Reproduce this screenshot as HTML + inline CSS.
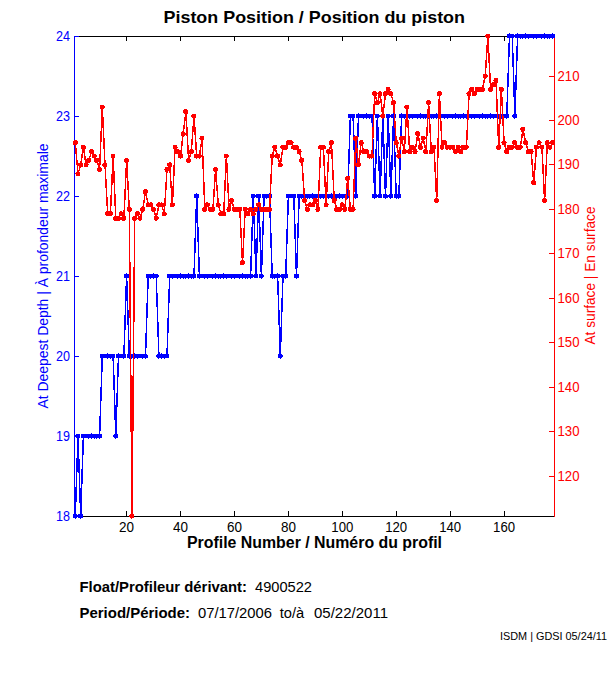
<!DOCTYPE html>
<html lang="en"><head><meta charset="utf-8"><title>Piston Position / Position du piston</title>
<style>
html,body{margin:0;padding:0;background:#fff;}
svg{display:block;}
text{font-family:"Liberation Sans",Arial,Helvetica,sans-serif;fill:#000;}
.t{font-size:14px;}
.n{font-size:15.4px;}
.b{font-weight:bold;}
</style></head><body>
<svg width="611" height="675" viewBox="0 0 611 675">
<rect x="0" y="0" width="611" height="675" fill="#ffffff"/>

<g shape-rendering="crispEdges">
<rect x="74" y="36" width="481" height="1" fill="#000"/>
<rect x="74" y="516" width="481" height="1" fill="#000"/>
<rect x="126" y="511" width="1" height="5" fill="#000"/>
<rect x="126" y="37" width="1" height="4" fill="#000"/>
<rect x="180" y="511" width="1" height="5" fill="#000"/>
<rect x="180" y="37" width="1" height="4" fill="#000"/>
<rect x="234" y="511" width="1" height="5" fill="#000"/>
<rect x="234" y="37" width="1" height="4" fill="#000"/>
<rect x="288" y="511" width="1" height="5" fill="#000"/>
<rect x="288" y="37" width="1" height="4" fill="#000"/>
<rect x="342" y="511" width="1" height="5" fill="#000"/>
<rect x="342" y="37" width="1" height="4" fill="#000"/>
<rect x="396" y="511" width="1" height="5" fill="#000"/>
<rect x="396" y="37" width="1" height="4" fill="#000"/>
<rect x="450" y="511" width="1" height="5" fill="#000"/>
<rect x="450" y="37" width="1" height="4" fill="#000"/>
<rect x="504" y="511" width="1" height="5" fill="#000"/>
<rect x="504" y="37" width="1" height="4" fill="#000"/>
</g>
<g shape-rendering="crispEdges">
<rect x="74" y="36" width="1" height="481" fill="#0000ff"/>
<rect x="74" y="516" width="5" height="1" fill="#0000ff"/>
<rect x="74" y="436" width="5" height="1" fill="#0000ff"/>
<rect x="74" y="356" width="5" height="1" fill="#0000ff"/>
<rect x="74" y="276" width="5" height="1" fill="#0000ff"/>
<rect x="74" y="196" width="5" height="1" fill="#0000ff"/>
<rect x="74" y="116" width="5" height="1" fill="#0000ff"/>
<rect x="74" y="36" width="5" height="1" fill="#0000ff"/>
<rect x="554" y="36" width="1" height="481" fill="#ff0000"/>
<rect x="549" y="476" width="5" height="1" fill="#ff0000"/>
<rect x="549" y="431" width="5" height="1" fill="#ff0000"/>
<rect x="549" y="387" width="5" height="1" fill="#ff0000"/>
<rect x="549" y="342" width="5" height="1" fill="#ff0000"/>
<rect x="549" y="298" width="5" height="1" fill="#ff0000"/>
<rect x="549" y="253" width="5" height="1" fill="#ff0000"/>
<rect x="549" y="209" width="5" height="1" fill="#ff0000"/>
<rect x="549" y="164" width="5" height="1" fill="#ff0000"/>
<rect x="549" y="120" width="5" height="1" fill="#ff0000"/>
<rect x="549" y="76" width="5" height="1" fill="#ff0000"/>
</g>
<g shape-rendering="crispEdges"><polyline points="75.3,516.0 78.0,436.0 80.7,516.0 83.4,436.0 86.1,436.0 88.8,436.0 91.5,436.0 94.2,436.0 96.9,436.0 99.6,436.0 102.3,356.0 105.0,356.0 107.7,356.0 110.4,356.0 113.1,356.0 115.8,436.0 118.5,356.0 121.2,356.0 123.9,356.0 126.6,276.0 129.3,356.0 132.0,356.0 134.7,356.0 137.4,356.0 140.1,356.0 142.8,356.0 145.5,356.0 148.2,276.0 150.9,276.0 153.6,276.0 156.2,276.0 158.9,356.0 161.6,356.0 164.3,356.0 167.0,356.0 169.7,276.0 172.4,276.0 175.1,276.0 177.8,276.0 180.5,276.0 183.2,276.0 185.9,276.0 188.6,276.0 191.3,276.0 194.0,276.0 196.7,196.0 199.4,276.0 202.1,276.0 204.8,276.0 207.5,276.0 210.2,276.0 212.9,276.0 215.6,276.0 218.3,276.0 221.0,276.0 223.7,276.0 226.4,276.0 229.1,276.0 231.8,276.0 234.4,276.0 237.1,276.0 239.8,276.0 242.5,276.0 245.2,276.0 247.9,276.0 250.6,276.0 253.3,196.0 256.0,276.0 258.7,196.0 261.4,276.0 264.1,196.0 266.8,196.0 269.5,196.0 272.2,276.0 274.9,276.0 277.6,276.0 280.3,356.0 283.0,276.0 285.7,276.0 288.4,196.0 291.1,196.0 293.8,196.0 296.5,276.0 299.2,196.0 301.9,196.0 304.6,196.0 307.3,196.0 310.0,196.0 312.7,196.0 315.3,196.0 318.0,196.0 320.7,196.0 323.4,196.0 326.1,196.0 328.8,196.0 331.5,196.0 334.2,196.0 336.9,196.0 339.6,196.0 342.3,196.0 345.0,196.0 347.7,196.0 350.4,116.0 353.1,116.0 355.8,196.0 358.5,116.0 361.2,116.0 363.9,116.0 366.6,116.0 369.3,116.0 372.0,116.0 374.7,196.0 377.4,116.0 380.1,196.0 382.8,116.0 385.5,196.0 388.2,116.0 390.9,196.0 393.6,116.0 396.2,196.0 398.9,196.0 401.6,116.0 404.3,116.0 407.0,116.0 409.7,116.0 412.4,116.0 415.1,116.0 417.8,116.0 420.5,116.0 423.2,116.0 425.9,116.0 428.6,116.0 431.3,116.0 434.0,116.0 436.7,116.0 439.4,116.0 442.1,116.0 444.8,116.0 447.5,116.0 450.2,116.0 452.9,116.0 455.6,116.0 458.3,116.0 461.0,116.0 463.7,116.0 466.4,116.0 469.1,116.0 471.8,116.0 474.4,116.0 477.1,116.0 479.8,116.0 482.5,116.0 485.2,116.0 487.9,116.0 490.6,116.0 493.3,116.0 496.0,116.0 498.7,116.0 501.4,116.0 504.1,116.0 506.8,116.0 509.5,36.0 512.2,36.0 514.9,116.0 517.6,36.0 520.3,36.0 523.0,36.0 525.7,36.0 528.4,36.0 531.1,36.0 533.8,36.0 536.5,36.0 539.2,36.0 541.9,36.0 544.6,36.0 547.3,36.0 550.0,36.0 552.7,36.0" fill="none" stroke="#0000ff" stroke-width="1.5" stroke-linejoin="round"/><circle cx="75.26" cy="516.03" r="2.543" fill="#0000ff"/><circle cx="77.95" cy="436.03" r="2.543" fill="#0000ff"/><circle cx="80.65" cy="516.03" r="2.543" fill="#0000ff"/><circle cx="83.35" cy="436.03" r="2.543" fill="#0000ff"/><circle cx="86.04" cy="436.03" r="2.543" fill="#0000ff"/><circle cx="88.74" cy="436.03" r="2.543" fill="#0000ff"/><circle cx="91.44" cy="436.03" r="2.543" fill="#0000ff"/><circle cx="94.13" cy="436.03" r="2.543" fill="#0000ff"/><circle cx="96.83" cy="436.03" r="2.543" fill="#0000ff"/><circle cx="99.53" cy="436.03" r="2.543" fill="#0000ff"/><circle cx="102.22" cy="356.03" r="2.543" fill="#0000ff"/><circle cx="104.92" cy="356.03" r="2.543" fill="#0000ff"/><circle cx="107.62" cy="356.03" r="2.543" fill="#0000ff"/><circle cx="110.31" cy="356.03" r="2.543" fill="#0000ff"/><circle cx="113.01" cy="356.03" r="2.543" fill="#0000ff"/><circle cx="115.71" cy="436.03" r="2.543" fill="#0000ff"/><circle cx="118.40" cy="356.03" r="2.543" fill="#0000ff"/><circle cx="121.10" cy="356.03" r="2.543" fill="#0000ff"/><circle cx="123.80" cy="356.03" r="2.543" fill="#0000ff"/><circle cx="126.49" cy="276.03" r="2.543" fill="#0000ff"/><circle cx="129.19" cy="356.03" r="2.543" fill="#0000ff"/><circle cx="131.89" cy="356.03" r="2.543" fill="#0000ff"/><circle cx="134.58" cy="356.03" r="2.543" fill="#0000ff"/><circle cx="137.28" cy="356.03" r="2.543" fill="#0000ff"/><circle cx="139.98" cy="356.03" r="2.543" fill="#0000ff"/><circle cx="142.67" cy="356.03" r="2.543" fill="#0000ff"/><circle cx="145.37" cy="356.03" r="2.543" fill="#0000ff"/><circle cx="148.07" cy="276.03" r="2.543" fill="#0000ff"/><circle cx="150.76" cy="276.03" r="2.543" fill="#0000ff"/><circle cx="153.46" cy="276.03" r="2.543" fill="#0000ff"/><circle cx="156.16" cy="276.03" r="2.543" fill="#0000ff"/><circle cx="158.85" cy="356.03" r="2.543" fill="#0000ff"/><circle cx="161.55" cy="356.03" r="2.543" fill="#0000ff"/><circle cx="164.25" cy="356.03" r="2.543" fill="#0000ff"/><circle cx="166.94" cy="356.03" r="2.543" fill="#0000ff"/><circle cx="169.64" cy="276.03" r="2.543" fill="#0000ff"/><circle cx="172.34" cy="276.03" r="2.543" fill="#0000ff"/><circle cx="175.03" cy="276.03" r="2.543" fill="#0000ff"/><circle cx="177.73" cy="276.03" r="2.543" fill="#0000ff"/><circle cx="180.43" cy="276.03" r="2.543" fill="#0000ff"/><circle cx="183.12" cy="276.03" r="2.543" fill="#0000ff"/><circle cx="185.82" cy="276.03" r="2.543" fill="#0000ff"/><circle cx="188.52" cy="276.03" r="2.543" fill="#0000ff"/><circle cx="191.21" cy="276.03" r="2.543" fill="#0000ff"/><circle cx="193.91" cy="276.03" r="2.543" fill="#0000ff"/><circle cx="196.61" cy="196.03" r="2.543" fill="#0000ff"/><circle cx="199.30" cy="276.03" r="2.543" fill="#0000ff"/><circle cx="202.00" cy="276.03" r="2.543" fill="#0000ff"/><circle cx="204.70" cy="276.03" r="2.543" fill="#0000ff"/><circle cx="207.39" cy="276.03" r="2.543" fill="#0000ff"/><circle cx="210.09" cy="276.03" r="2.543" fill="#0000ff"/><circle cx="212.79" cy="276.03" r="2.543" fill="#0000ff"/><circle cx="215.48" cy="276.03" r="2.543" fill="#0000ff"/><circle cx="218.18" cy="276.03" r="2.543" fill="#0000ff"/><circle cx="220.88" cy="276.03" r="2.543" fill="#0000ff"/><circle cx="223.57" cy="276.03" r="2.543" fill="#0000ff"/><circle cx="226.27" cy="276.03" r="2.543" fill="#0000ff"/><circle cx="228.97" cy="276.03" r="2.543" fill="#0000ff"/><circle cx="231.66" cy="276.03" r="2.543" fill="#0000ff"/><circle cx="234.36" cy="276.03" r="2.543" fill="#0000ff"/><circle cx="237.06" cy="276.03" r="2.543" fill="#0000ff"/><circle cx="239.75" cy="276.03" r="2.543" fill="#0000ff"/><circle cx="242.45" cy="276.03" r="2.543" fill="#0000ff"/><circle cx="245.15" cy="276.03" r="2.543" fill="#0000ff"/><circle cx="247.84" cy="276.03" r="2.543" fill="#0000ff"/><circle cx="250.54" cy="276.03" r="2.543" fill="#0000ff"/><circle cx="253.24" cy="196.03" r="2.543" fill="#0000ff"/><circle cx="255.93" cy="276.03" r="2.543" fill="#0000ff"/><circle cx="258.63" cy="196.03" r="2.543" fill="#0000ff"/><circle cx="261.33" cy="276.03" r="2.543" fill="#0000ff"/><circle cx="264.02" cy="196.03" r="2.543" fill="#0000ff"/><circle cx="266.72" cy="196.03" r="2.543" fill="#0000ff"/><circle cx="269.42" cy="196.03" r="2.543" fill="#0000ff"/><circle cx="272.11" cy="276.03" r="2.543" fill="#0000ff"/><circle cx="274.81" cy="276.03" r="2.543" fill="#0000ff"/><circle cx="277.51" cy="276.03" r="2.543" fill="#0000ff"/><circle cx="280.20" cy="356.03" r="2.543" fill="#0000ff"/><circle cx="282.90" cy="276.03" r="2.543" fill="#0000ff"/><circle cx="285.60" cy="276.03" r="2.543" fill="#0000ff"/><circle cx="288.29" cy="196.03" r="2.543" fill="#0000ff"/><circle cx="290.99" cy="196.03" r="2.543" fill="#0000ff"/><circle cx="293.69" cy="196.03" r="2.543" fill="#0000ff"/><circle cx="296.38" cy="276.03" r="2.543" fill="#0000ff"/><circle cx="299.08" cy="196.03" r="2.543" fill="#0000ff"/><circle cx="301.78" cy="196.03" r="2.543" fill="#0000ff"/><circle cx="304.47" cy="196.03" r="2.543" fill="#0000ff"/><circle cx="307.17" cy="196.03" r="2.543" fill="#0000ff"/><circle cx="309.87" cy="196.03" r="2.543" fill="#0000ff"/><circle cx="312.56" cy="196.03" r="2.543" fill="#0000ff"/><circle cx="315.26" cy="196.03" r="2.543" fill="#0000ff"/><circle cx="317.95" cy="196.03" r="2.543" fill="#0000ff"/><circle cx="320.65" cy="196.03" r="2.543" fill="#0000ff"/><circle cx="323.35" cy="196.03" r="2.543" fill="#0000ff"/><circle cx="326.04" cy="196.03" r="2.543" fill="#0000ff"/><circle cx="328.74" cy="196.03" r="2.543" fill="#0000ff"/><circle cx="331.44" cy="196.03" r="2.543" fill="#0000ff"/><circle cx="334.13" cy="196.03" r="2.543" fill="#0000ff"/><circle cx="336.83" cy="196.03" r="2.543" fill="#0000ff"/><circle cx="339.53" cy="196.03" r="2.543" fill="#0000ff"/><circle cx="342.22" cy="196.03" r="2.543" fill="#0000ff"/><circle cx="344.92" cy="196.03" r="2.543" fill="#0000ff"/><circle cx="347.62" cy="196.03" r="2.543" fill="#0000ff"/><circle cx="350.31" cy="116.03" r="2.543" fill="#0000ff"/><circle cx="353.01" cy="116.03" r="2.543" fill="#0000ff"/><circle cx="355.71" cy="196.03" r="2.543" fill="#0000ff"/><circle cx="358.40" cy="116.03" r="2.543" fill="#0000ff"/><circle cx="361.10" cy="116.03" r="2.543" fill="#0000ff"/><circle cx="363.80" cy="116.03" r="2.543" fill="#0000ff"/><circle cx="366.49" cy="116.03" r="2.543" fill="#0000ff"/><circle cx="369.19" cy="116.03" r="2.543" fill="#0000ff"/><circle cx="371.89" cy="116.03" r="2.543" fill="#0000ff"/><circle cx="374.58" cy="196.03" r="2.543" fill="#0000ff"/><circle cx="377.28" cy="116.03" r="2.543" fill="#0000ff"/><circle cx="379.98" cy="196.03" r="2.543" fill="#0000ff"/><circle cx="382.67" cy="116.03" r="2.543" fill="#0000ff"/><circle cx="385.37" cy="196.03" r="2.543" fill="#0000ff"/><circle cx="388.07" cy="116.03" r="2.543" fill="#0000ff"/><circle cx="390.76" cy="196.03" r="2.543" fill="#0000ff"/><circle cx="393.46" cy="116.03" r="2.543" fill="#0000ff"/><circle cx="396.16" cy="196.03" r="2.543" fill="#0000ff"/><circle cx="398.85" cy="196.03" r="2.543" fill="#0000ff"/><circle cx="401.55" cy="116.03" r="2.543" fill="#0000ff"/><circle cx="404.25" cy="116.03" r="2.543" fill="#0000ff"/><circle cx="406.94" cy="116.03" r="2.543" fill="#0000ff"/><circle cx="409.64" cy="116.03" r="2.543" fill="#0000ff"/><circle cx="412.34" cy="116.03" r="2.543" fill="#0000ff"/><circle cx="415.03" cy="116.03" r="2.543" fill="#0000ff"/><circle cx="417.73" cy="116.03" r="2.543" fill="#0000ff"/><circle cx="420.43" cy="116.03" r="2.543" fill="#0000ff"/><circle cx="423.12" cy="116.03" r="2.543" fill="#0000ff"/><circle cx="425.82" cy="116.03" r="2.543" fill="#0000ff"/><circle cx="428.52" cy="116.03" r="2.543" fill="#0000ff"/><circle cx="431.21" cy="116.03" r="2.543" fill="#0000ff"/><circle cx="433.91" cy="116.03" r="2.543" fill="#0000ff"/><circle cx="436.61" cy="116.03" r="2.543" fill="#0000ff"/><circle cx="439.30" cy="116.03" r="2.543" fill="#0000ff"/><circle cx="442.00" cy="116.03" r="2.543" fill="#0000ff"/><circle cx="444.70" cy="116.03" r="2.543" fill="#0000ff"/><circle cx="447.39" cy="116.03" r="2.543" fill="#0000ff"/><circle cx="450.09" cy="116.03" r="2.543" fill="#0000ff"/><circle cx="452.79" cy="116.03" r="2.543" fill="#0000ff"/><circle cx="455.48" cy="116.03" r="2.543" fill="#0000ff"/><circle cx="458.18" cy="116.03" r="2.543" fill="#0000ff"/><circle cx="460.88" cy="116.03" r="2.543" fill="#0000ff"/><circle cx="463.57" cy="116.03" r="2.543" fill="#0000ff"/><circle cx="466.27" cy="116.03" r="2.543" fill="#0000ff"/><circle cx="468.97" cy="116.03" r="2.543" fill="#0000ff"/><circle cx="471.66" cy="116.03" r="2.543" fill="#0000ff"/><circle cx="474.36" cy="116.03" r="2.543" fill="#0000ff"/><circle cx="477.06" cy="116.03" r="2.543" fill="#0000ff"/><circle cx="479.75" cy="116.03" r="2.543" fill="#0000ff"/><circle cx="482.45" cy="116.03" r="2.543" fill="#0000ff"/><circle cx="485.15" cy="116.03" r="2.543" fill="#0000ff"/><circle cx="487.84" cy="116.03" r="2.543" fill="#0000ff"/><circle cx="490.54" cy="116.03" r="2.543" fill="#0000ff"/><circle cx="493.24" cy="116.03" r="2.543" fill="#0000ff"/><circle cx="495.93" cy="116.03" r="2.543" fill="#0000ff"/><circle cx="498.63" cy="116.03" r="2.543" fill="#0000ff"/><circle cx="501.33" cy="116.03" r="2.543" fill="#0000ff"/><circle cx="504.02" cy="116.03" r="2.543" fill="#0000ff"/><circle cx="506.72" cy="116.03" r="2.543" fill="#0000ff"/><circle cx="509.42" cy="36.03" r="2.543" fill="#0000ff"/><circle cx="512.11" cy="36.03" r="2.543" fill="#0000ff"/><circle cx="514.81" cy="116.03" r="2.543" fill="#0000ff"/><circle cx="517.51" cy="36.03" r="2.543" fill="#0000ff"/><circle cx="520.20" cy="36.03" r="2.543" fill="#0000ff"/><circle cx="522.90" cy="36.03" r="2.543" fill="#0000ff"/><circle cx="525.60" cy="36.03" r="2.543" fill="#0000ff"/><circle cx="528.29" cy="36.03" r="2.543" fill="#0000ff"/><circle cx="530.99" cy="36.03" r="2.543" fill="#0000ff"/><circle cx="533.69" cy="36.03" r="2.543" fill="#0000ff"/><circle cx="536.38" cy="36.03" r="2.543" fill="#0000ff"/><circle cx="539.08" cy="36.03" r="2.543" fill="#0000ff"/><circle cx="541.78" cy="36.03" r="2.543" fill="#0000ff"/><circle cx="544.47" cy="36.03" r="2.543" fill="#0000ff"/><circle cx="547.17" cy="36.03" r="2.543" fill="#0000ff"/><circle cx="549.87" cy="36.03" r="2.543" fill="#0000ff"/><circle cx="552.56" cy="36.03" r="2.543" fill="#0000ff"/></g>
<g shape-rendering="crispEdges"><polyline points="75.3,142.7 78.0,173.8 80.7,164.9 83.4,147.1 86.1,164.9 88.8,160.4 91.5,151.6 94.2,156.0 96.9,160.4 99.6,169.3 102.3,107.1 105.0,164.9 107.7,213.8 110.4,213.8 113.1,156.0 115.8,218.2 118.5,218.2 121.2,213.8 123.9,218.2 126.6,160.4 129.3,209.3 132.0,516.0 134.7,218.2 137.4,213.8 140.1,218.2 142.8,209.3 145.5,191.6 148.2,204.9 150.9,204.9 153.6,209.3 156.2,218.2 158.9,204.9 161.6,204.9 164.3,213.8 167.0,169.3 169.7,164.9 172.4,204.9 175.1,147.1 177.8,151.6 180.5,156.0 183.2,133.8 185.9,111.6 188.6,160.4 191.3,151.6 194.0,116.0 196.7,156.0 199.4,156.0 202.1,138.2 204.8,209.3 207.5,204.9 210.2,209.3 212.9,209.3 215.6,169.3 218.3,204.9 221.0,213.8 223.7,213.8 226.4,156.0 229.1,209.3 231.8,200.4 234.4,209.3 237.1,209.3 239.8,209.3 242.5,262.7 245.2,209.3 247.9,213.8 250.6,209.3 253.3,213.8 256.0,209.3 258.7,204.9 261.4,209.3 264.1,209.3 266.8,209.3 269.5,209.3 272.2,156.0 274.9,147.1 277.6,156.0 280.3,164.9 283.0,147.1 285.7,147.1 288.4,142.7 291.1,142.7 293.8,147.1 296.5,147.1 299.2,151.6 301.9,160.4 304.6,200.4 307.3,209.3 310.0,204.9 312.7,204.9 315.3,200.4 318.0,209.3 320.7,147.1 323.4,147.1 326.1,204.9 328.8,151.6 331.5,142.7 334.2,200.4 336.9,209.3 339.6,209.3 342.3,204.9 345.0,209.3 347.7,178.2 350.4,209.3 353.1,209.3 355.8,138.2 358.5,164.9 361.2,142.7 363.9,151.6 366.6,151.6 369.3,156.0 372.0,156.0 374.7,93.8 377.4,102.7 380.1,93.8 382.8,116.0 385.5,93.8 388.2,89.3 390.9,93.8 393.6,102.7 396.2,142.7 398.9,156.0 401.6,138.2 404.3,151.6 407.0,107.1 409.7,151.6 412.4,147.1 415.1,151.6 417.8,133.8 420.5,147.1 423.2,138.2 425.9,151.6 428.6,102.7 431.3,151.6 434.0,147.1 436.7,200.4 439.4,93.8 442.1,147.1 444.8,142.7 447.5,147.1 450.2,147.1 452.9,147.1 455.6,151.6 458.3,147.1 461.0,151.6 463.7,147.1 466.4,147.1 469.1,93.8 471.8,89.3 474.4,93.8 477.1,89.3 479.8,89.3 482.5,89.3 485.2,76.0 487.9,36.0 490.6,89.3 493.3,84.9 496.0,80.4 498.7,147.1 501.4,89.3 504.1,142.7 506.8,151.6 509.5,147.1 512.2,147.1 514.9,142.7 517.6,147.1 520.3,147.1 523.0,129.3 525.7,142.7 528.4,151.6 531.1,151.6 533.8,182.7 536.5,147.1 539.2,142.7 541.9,147.1 544.6,200.4 547.3,142.7 550.0,147.1 552.7,142.7" fill="none" stroke="#ff0000" stroke-width="1.5" stroke-linejoin="round"/><circle cx="75.26" cy="142.70" r="2.543" fill="#ff0000"/><circle cx="77.95" cy="173.81" r="2.543" fill="#ff0000"/><circle cx="80.65" cy="164.92" r="2.543" fill="#ff0000"/><circle cx="83.35" cy="147.14" r="2.543" fill="#ff0000"/><circle cx="86.04" cy="164.92" r="2.543" fill="#ff0000"/><circle cx="88.74" cy="160.47" r="2.543" fill="#ff0000"/><circle cx="91.44" cy="151.59" r="2.543" fill="#ff0000"/><circle cx="94.13" cy="156.03" r="2.543" fill="#ff0000"/><circle cx="96.83" cy="160.47" r="2.543" fill="#ff0000"/><circle cx="99.53" cy="169.36" r="2.543" fill="#ff0000"/><circle cx="102.22" cy="107.14" r="2.543" fill="#ff0000"/><circle cx="104.92" cy="164.92" r="2.543" fill="#ff0000"/><circle cx="107.62" cy="213.81" r="2.543" fill="#ff0000"/><circle cx="110.31" cy="213.81" r="2.543" fill="#ff0000"/><circle cx="113.01" cy="156.03" r="2.543" fill="#ff0000"/><circle cx="115.71" cy="218.25" r="2.543" fill="#ff0000"/><circle cx="118.40" cy="218.25" r="2.543" fill="#ff0000"/><circle cx="121.10" cy="213.81" r="2.543" fill="#ff0000"/><circle cx="123.80" cy="218.25" r="2.543" fill="#ff0000"/><circle cx="126.49" cy="160.47" r="2.543" fill="#ff0000"/><circle cx="129.19" cy="209.36" r="2.543" fill="#ff0000"/><circle cx="131.89" cy="516.03" r="2.543" fill="#ff0000"/><circle cx="134.58" cy="218.25" r="2.543" fill="#ff0000"/><circle cx="137.28" cy="213.81" r="2.543" fill="#ff0000"/><circle cx="139.98" cy="218.25" r="2.543" fill="#ff0000"/><circle cx="142.67" cy="209.36" r="2.543" fill="#ff0000"/><circle cx="145.37" cy="191.59" r="2.543" fill="#ff0000"/><circle cx="148.07" cy="204.92" r="2.543" fill="#ff0000"/><circle cx="150.76" cy="204.92" r="2.543" fill="#ff0000"/><circle cx="153.46" cy="209.36" r="2.543" fill="#ff0000"/><circle cx="156.16" cy="218.25" r="2.543" fill="#ff0000"/><circle cx="158.85" cy="204.92" r="2.543" fill="#ff0000"/><circle cx="161.55" cy="204.92" r="2.543" fill="#ff0000"/><circle cx="164.25" cy="213.81" r="2.543" fill="#ff0000"/><circle cx="166.94" cy="169.36" r="2.543" fill="#ff0000"/><circle cx="169.64" cy="164.92" r="2.543" fill="#ff0000"/><circle cx="172.34" cy="204.92" r="2.543" fill="#ff0000"/><circle cx="175.03" cy="147.14" r="2.543" fill="#ff0000"/><circle cx="177.73" cy="151.59" r="2.543" fill="#ff0000"/><circle cx="180.43" cy="156.03" r="2.543" fill="#ff0000"/><circle cx="183.12" cy="133.81" r="2.543" fill="#ff0000"/><circle cx="185.82" cy="111.59" r="2.543" fill="#ff0000"/><circle cx="188.52" cy="160.47" r="2.543" fill="#ff0000"/><circle cx="191.21" cy="151.59" r="2.543" fill="#ff0000"/><circle cx="193.91" cy="116.03" r="2.543" fill="#ff0000"/><circle cx="196.61" cy="156.03" r="2.543" fill="#ff0000"/><circle cx="199.30" cy="156.03" r="2.543" fill="#ff0000"/><circle cx="202.00" cy="138.25" r="2.543" fill="#ff0000"/><circle cx="204.70" cy="209.36" r="2.543" fill="#ff0000"/><circle cx="207.39" cy="204.92" r="2.543" fill="#ff0000"/><circle cx="210.09" cy="209.36" r="2.543" fill="#ff0000"/><circle cx="212.79" cy="209.36" r="2.543" fill="#ff0000"/><circle cx="215.48" cy="169.36" r="2.543" fill="#ff0000"/><circle cx="218.18" cy="204.92" r="2.543" fill="#ff0000"/><circle cx="220.88" cy="213.81" r="2.543" fill="#ff0000"/><circle cx="223.57" cy="213.81" r="2.543" fill="#ff0000"/><circle cx="226.27" cy="156.03" r="2.543" fill="#ff0000"/><circle cx="228.97" cy="209.36" r="2.543" fill="#ff0000"/><circle cx="231.66" cy="200.47" r="2.543" fill="#ff0000"/><circle cx="234.36" cy="209.36" r="2.543" fill="#ff0000"/><circle cx="237.06" cy="209.36" r="2.543" fill="#ff0000"/><circle cx="239.75" cy="209.36" r="2.543" fill="#ff0000"/><circle cx="242.45" cy="262.70" r="2.543" fill="#ff0000"/><circle cx="245.15" cy="209.36" r="2.543" fill="#ff0000"/><circle cx="247.84" cy="213.81" r="2.543" fill="#ff0000"/><circle cx="250.54" cy="209.36" r="2.543" fill="#ff0000"/><circle cx="253.24" cy="213.81" r="2.543" fill="#ff0000"/><circle cx="255.93" cy="209.36" r="2.543" fill="#ff0000"/><circle cx="258.63" cy="204.92" r="2.543" fill="#ff0000"/><circle cx="261.33" cy="209.36" r="2.543" fill="#ff0000"/><circle cx="264.02" cy="209.36" r="2.543" fill="#ff0000"/><circle cx="266.72" cy="209.36" r="2.543" fill="#ff0000"/><circle cx="269.42" cy="209.36" r="2.543" fill="#ff0000"/><circle cx="272.11" cy="156.03" r="2.543" fill="#ff0000"/><circle cx="274.81" cy="147.14" r="2.543" fill="#ff0000"/><circle cx="277.51" cy="156.03" r="2.543" fill="#ff0000"/><circle cx="280.20" cy="164.92" r="2.543" fill="#ff0000"/><circle cx="282.90" cy="147.14" r="2.543" fill="#ff0000"/><circle cx="285.60" cy="147.14" r="2.543" fill="#ff0000"/><circle cx="288.29" cy="142.70" r="2.543" fill="#ff0000"/><circle cx="290.99" cy="142.70" r="2.543" fill="#ff0000"/><circle cx="293.69" cy="147.14" r="2.543" fill="#ff0000"/><circle cx="296.38" cy="147.14" r="2.543" fill="#ff0000"/><circle cx="299.08" cy="151.59" r="2.543" fill="#ff0000"/><circle cx="301.78" cy="160.47" r="2.543" fill="#ff0000"/><circle cx="304.47" cy="200.47" r="2.543" fill="#ff0000"/><circle cx="307.17" cy="209.36" r="2.543" fill="#ff0000"/><circle cx="309.87" cy="204.92" r="2.543" fill="#ff0000"/><circle cx="312.56" cy="204.92" r="2.543" fill="#ff0000"/><circle cx="315.26" cy="200.47" r="2.543" fill="#ff0000"/><circle cx="317.95" cy="209.36" r="2.543" fill="#ff0000"/><circle cx="320.65" cy="147.14" r="2.543" fill="#ff0000"/><circle cx="323.35" cy="147.14" r="2.543" fill="#ff0000"/><circle cx="326.04" cy="204.92" r="2.543" fill="#ff0000"/><circle cx="328.74" cy="151.59" r="2.543" fill="#ff0000"/><circle cx="331.44" cy="142.70" r="2.543" fill="#ff0000"/><circle cx="334.13" cy="200.47" r="2.543" fill="#ff0000"/><circle cx="336.83" cy="209.36" r="2.543" fill="#ff0000"/><circle cx="339.53" cy="209.36" r="2.543" fill="#ff0000"/><circle cx="342.22" cy="204.92" r="2.543" fill="#ff0000"/><circle cx="344.92" cy="209.36" r="2.543" fill="#ff0000"/><circle cx="347.62" cy="178.25" r="2.543" fill="#ff0000"/><circle cx="350.31" cy="209.36" r="2.543" fill="#ff0000"/><circle cx="353.01" cy="209.36" r="2.543" fill="#ff0000"/><circle cx="355.71" cy="138.25" r="2.543" fill="#ff0000"/><circle cx="358.40" cy="164.92" r="2.543" fill="#ff0000"/><circle cx="361.10" cy="142.70" r="2.543" fill="#ff0000"/><circle cx="363.80" cy="151.59" r="2.543" fill="#ff0000"/><circle cx="366.49" cy="151.59" r="2.543" fill="#ff0000"/><circle cx="369.19" cy="156.03" r="2.543" fill="#ff0000"/><circle cx="371.89" cy="156.03" r="2.543" fill="#ff0000"/><circle cx="374.58" cy="93.81" r="2.543" fill="#ff0000"/><circle cx="377.28" cy="102.70" r="2.543" fill="#ff0000"/><circle cx="379.98" cy="93.81" r="2.543" fill="#ff0000"/><circle cx="382.67" cy="116.03" r="2.543" fill="#ff0000"/><circle cx="385.37" cy="93.81" r="2.543" fill="#ff0000"/><circle cx="388.07" cy="89.36" r="2.543" fill="#ff0000"/><circle cx="390.76" cy="93.81" r="2.543" fill="#ff0000"/><circle cx="393.46" cy="102.70" r="2.543" fill="#ff0000"/><circle cx="396.16" cy="142.70" r="2.543" fill="#ff0000"/><circle cx="398.85" cy="156.03" r="2.543" fill="#ff0000"/><circle cx="401.55" cy="138.25" r="2.543" fill="#ff0000"/><circle cx="404.25" cy="151.59" r="2.543" fill="#ff0000"/><circle cx="406.94" cy="107.14" r="2.543" fill="#ff0000"/><circle cx="409.64" cy="151.59" r="2.543" fill="#ff0000"/><circle cx="412.34" cy="147.14" r="2.543" fill="#ff0000"/><circle cx="415.03" cy="151.59" r="2.543" fill="#ff0000"/><circle cx="417.73" cy="133.81" r="2.543" fill="#ff0000"/><circle cx="420.43" cy="147.14" r="2.543" fill="#ff0000"/><circle cx="423.12" cy="138.25" r="2.543" fill="#ff0000"/><circle cx="425.82" cy="151.59" r="2.543" fill="#ff0000"/><circle cx="428.52" cy="102.70" r="2.543" fill="#ff0000"/><circle cx="431.21" cy="151.59" r="2.543" fill="#ff0000"/><circle cx="433.91" cy="147.14" r="2.543" fill="#ff0000"/><circle cx="436.61" cy="200.47" r="2.543" fill="#ff0000"/><circle cx="439.30" cy="93.81" r="2.543" fill="#ff0000"/><circle cx="442.00" cy="147.14" r="2.543" fill="#ff0000"/><circle cx="444.70" cy="142.70" r="2.543" fill="#ff0000"/><circle cx="447.39" cy="147.14" r="2.543" fill="#ff0000"/><circle cx="450.09" cy="147.14" r="2.543" fill="#ff0000"/><circle cx="452.79" cy="147.14" r="2.543" fill="#ff0000"/><circle cx="455.48" cy="151.59" r="2.543" fill="#ff0000"/><circle cx="458.18" cy="147.14" r="2.543" fill="#ff0000"/><circle cx="460.88" cy="151.59" r="2.543" fill="#ff0000"/><circle cx="463.57" cy="147.14" r="2.543" fill="#ff0000"/><circle cx="466.27" cy="147.14" r="2.543" fill="#ff0000"/><circle cx="468.97" cy="93.81" r="2.543" fill="#ff0000"/><circle cx="471.66" cy="89.36" r="2.543" fill="#ff0000"/><circle cx="474.36" cy="93.81" r="2.543" fill="#ff0000"/><circle cx="477.06" cy="89.36" r="2.543" fill="#ff0000"/><circle cx="479.75" cy="89.36" r="2.543" fill="#ff0000"/><circle cx="482.45" cy="89.36" r="2.543" fill="#ff0000"/><circle cx="485.15" cy="76.03" r="2.543" fill="#ff0000"/><circle cx="487.84" cy="36.03" r="2.543" fill="#ff0000"/><circle cx="490.54" cy="89.36" r="2.543" fill="#ff0000"/><circle cx="493.24" cy="84.92" r="2.543" fill="#ff0000"/><circle cx="495.93" cy="80.47" r="2.543" fill="#ff0000"/><circle cx="498.63" cy="147.14" r="2.543" fill="#ff0000"/><circle cx="501.33" cy="89.36" r="2.543" fill="#ff0000"/><circle cx="504.02" cy="142.70" r="2.543" fill="#ff0000"/><circle cx="506.72" cy="151.59" r="2.543" fill="#ff0000"/><circle cx="509.42" cy="147.14" r="2.543" fill="#ff0000"/><circle cx="512.11" cy="147.14" r="2.543" fill="#ff0000"/><circle cx="514.81" cy="142.70" r="2.543" fill="#ff0000"/><circle cx="517.51" cy="147.14" r="2.543" fill="#ff0000"/><circle cx="520.20" cy="147.14" r="2.543" fill="#ff0000"/><circle cx="522.90" cy="129.36" r="2.543" fill="#ff0000"/><circle cx="525.60" cy="142.70" r="2.543" fill="#ff0000"/><circle cx="528.29" cy="151.59" r="2.543" fill="#ff0000"/><circle cx="530.99" cy="151.59" r="2.543" fill="#ff0000"/><circle cx="533.69" cy="182.70" r="2.543" fill="#ff0000"/><circle cx="536.38" cy="147.14" r="2.543" fill="#ff0000"/><circle cx="539.08" cy="142.70" r="2.543" fill="#ff0000"/><circle cx="541.78" cy="147.14" r="2.543" fill="#ff0000"/><circle cx="544.47" cy="200.47" r="2.543" fill="#ff0000"/><circle cx="547.17" cy="142.70" r="2.543" fill="#ff0000"/><circle cx="549.87" cy="147.14" r="2.543" fill="#ff0000"/><circle cx="552.56" cy="142.70" r="2.543" fill="#ff0000"/></g>
<g>
<text x="163.5" y="23.4" class="b" font-size="16.6" textLength="301.5" lengthAdjust="spacingAndGlyphs">Piston Position / Position du piston</text>
<text x="187" y="548" class="b" font-size="16" textLength="255" lengthAdjust="spacingAndGlyphs">Profile Number / Numéro du profil</text>
<text x="56" y="520.8" class="t" textLength="14" lengthAdjust="spacingAndGlyphs" style="fill:#0000ff">18</text>
<text x="56" y="440.8" class="t" textLength="14" lengthAdjust="spacingAndGlyphs" style="fill:#0000ff">19</text>
<text x="56" y="360.8" class="t" textLength="14" lengthAdjust="spacingAndGlyphs" style="fill:#0000ff">20</text>
<text x="56" y="280.8" class="t" textLength="14" lengthAdjust="spacingAndGlyphs" style="fill:#0000ff">21</text>
<text x="56" y="200.8" class="t" textLength="14" lengthAdjust="spacingAndGlyphs" style="fill:#0000ff">22</text>
<text x="56" y="120.8" class="t" textLength="14" lengthAdjust="spacingAndGlyphs" style="fill:#0000ff">23</text>
<text x="56" y="40.8" class="t" textLength="14" lengthAdjust="spacingAndGlyphs" style="fill:#0000ff">24</text>
<text x="557.5" y="480.8" class="t" textLength="22" lengthAdjust="spacingAndGlyphs" style="fill:#ff0000">120</text>
<text x="557.5" y="435.8" class="t" textLength="22" lengthAdjust="spacingAndGlyphs" style="fill:#ff0000">130</text>
<text x="557.5" y="391.8" class="t" textLength="22" lengthAdjust="spacingAndGlyphs" style="fill:#ff0000">140</text>
<text x="557.5" y="346.8" class="t" textLength="22" lengthAdjust="spacingAndGlyphs" style="fill:#ff0000">150</text>
<text x="557.5" y="302.8" class="t" textLength="22" lengthAdjust="spacingAndGlyphs" style="fill:#ff0000">160</text>
<text x="557.5" y="257.8" class="t" textLength="22" lengthAdjust="spacingAndGlyphs" style="fill:#ff0000">170</text>
<text x="557.5" y="213.8" class="t" textLength="22" lengthAdjust="spacingAndGlyphs" style="fill:#ff0000">180</text>
<text x="557.5" y="168.8" class="t" textLength="22" lengthAdjust="spacingAndGlyphs" style="fill:#ff0000">190</text>
<text x="557.5" y="124.8" class="t" textLength="22" lengthAdjust="spacingAndGlyphs" style="fill:#ff0000">200</text>
<text x="557.5" y="80.8" class="t" textLength="22" lengthAdjust="spacingAndGlyphs" style="fill:#ff0000">210</text>
<text x="119.1" y="532" class="t" textLength="15" lengthAdjust="spacingAndGlyphs">20</text>
<text x="173.0" y="532" class="t" textLength="15" lengthAdjust="spacingAndGlyphs">40</text>
<text x="226.9" y="532" class="t" textLength="15" lengthAdjust="spacingAndGlyphs">60</text>
<text x="280.9" y="532" class="t" textLength="15" lengthAdjust="spacingAndGlyphs">80</text>
<text x="331.3" y="532" class="t" textLength="22" lengthAdjust="spacingAndGlyphs">100</text>
<text x="385.2" y="532" class="t" textLength="22" lengthAdjust="spacingAndGlyphs">120</text>
<text x="439.2" y="532" class="t" textLength="22" lengthAdjust="spacingAndGlyphs">140</text>
<text x="493.1" y="532" class="t" textLength="22" lengthAdjust="spacingAndGlyphs">160</text>
<text transform="translate(47.7,408.5) rotate(-90)" class="t" style="fill:#0000ff" textLength="265" lengthAdjust="spacingAndGlyphs">At Deepest Depth | À profondeur maximale</text>
<text transform="translate(594.6,344.5) rotate(-90)" class="t" style="fill:#ff0000" textLength="138" lengthAdjust="spacingAndGlyphs">At surface | En surface</text>
<text x="79.5" y="592" class="n b" textLength="167.5" lengthAdjust="spacingAndGlyphs">Float/Profileur dérivant:</text>
<text x="255" y="592" class="n" textLength="57" lengthAdjust="spacingAndGlyphs">4900522</text>
<text x="79.5" y="618" class="n b" textLength="110.5" lengthAdjust="spacingAndGlyphs">Period/Période:</text>
<text x="198" y="618" class="n" textLength="74" lengthAdjust="spacingAndGlyphs">07/17/2006</text>
<text x="279.7" y="618" class="n" textLength="24.5" lengthAdjust="spacingAndGlyphs">to/à</text>
<text x="314" y="618" class="n" textLength="74" lengthAdjust="spacingAndGlyphs">05/22/2011</text>
<text x="500" y="640" font-size="11" textLength="107" lengthAdjust="spacingAndGlyphs">ISDM | GDSI 05/24/11</text>
</g>
</svg></body></html>
